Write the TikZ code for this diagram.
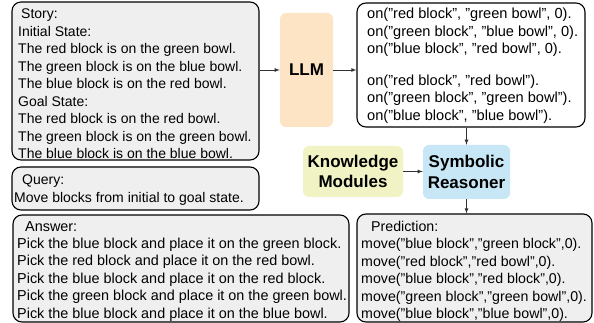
\documentclass[tikz,border=0pt]{standalone}
\usepackage{fontspec}
\setmainfont{Liberation Sans}
\usetikzlibrary{arrows,positioning}
\definecolor{panelgray}{RGB}{239,239,239}
\definecolor{llmorange}{RGB}{253,228,196}
\definecolor{kmyellow}{RGB}{242,243,196}
\definecolor{srblue}{RGB}{199,231,246}
\tikzset{>=latex}
\tikzset{panel/.style={draw=black, line width=1.1pt, rounded corners=9pt,
    fill=panelgray, inner sep=0pt},
  txt/.style={align=left, inner sep=0pt, anchor=north west,
    font=\fontsize{14}{17.5}\selectfont},
  module/.style={rounded corners=6pt, inner sep=0pt, align=center,
    font=\bfseries\fontsize{17}{20.6}\selectfont},
  flow/.style={->, line width=0.8pt, draw=black!80}}

\begin{document}
\begin{tikzpicture}[x=1pt,y=-1pt]
    \useasboundingbox (0,0) rectangle (594,323);
    % left column
    \node[panel, minimum width=247pt, minimum height=158pt] (story) at (135.5,81) {};
    \node[panel, minimum width=247pt, minimum height=43pt] (query) at (135.5,188.5) {};
    \node[panel, minimum width=336pt, minimum height=107pt] (answer) at (181,268.5) {};
    \node[txt] (storytxt) at (18,9) {\hspace*{3pt}Story:\\Initial State:\\
      The red block is on the green bowl.\\The green block is on the blue bowl.\\
      The blue block is on the red bowl.\\Goal State:\\
      The red block is on the red bowl.\\The green block is on the green bowl.\\
      The blue block is on the blue bowl.};
    \node[txt] (querytxt) at (14,175) {\hspace*{8pt}Query:\\Move blocks from initial to goal state.};
    \node[txt, font=\fontsize{14.4}{17.4}\selectfont] (answertxt) at (17,221) {\hspace*{8pt}Answer:\\
      Pick the blue block and place it on the green block.\\
      Pick the red block and place it on the red bowl.\\
      Pick the blue block and place it on the red block.\\
      Pick the green block and place it on the green bowl.\\
      Pick the blue block and place it on the blue bowl.};
    % pipeline
    \node[module, fill=llmorange, minimum width=53pt, minimum height=114pt] (llm) at (306.5,70) {LLM};
    \node[panel, fill=white, minimum width=228pt, minimum height=124pt] (facts) at (471,65) {};
    \node[txt, font=\fontsize{14.6}{17.5}\selectfont] (factstxt) at (367,8) {on("red block", "green bowl", 0).\\
      on("green block", "blue bowl", 0).\\on("blue block", "red bowl", 0).\\[14pt]
      on("red block", "red bowl").\\on("green block", "green bowl").\\
      on("blue block", "blue bowl").};
    \node[module, fill=kmyellow, minimum width=100pt, minimum height=51pt] (km) at (353,171.5) {Knowledge\\Modules};
    \node[module, fill=srblue, minimum width=87pt, minimum height=54pt] (sr) at (466.5,172) {Symbolic\\Reasoner};
    \node[panel, minimum width=235pt, minimum height=108pt] (pred) at (474.5,268) {};
    \node[txt, font=\fontsize{14.2}{17.4}\selectfont] (predtxt) at (361,221) {\hspace*{10pt}Prediction:\\
      move("blue block","green block",0).\\move("red block","red bowl",0).\\
      move("blue block","red block",0).\\move("green block","green bowl",0).\\
      move("blue block","blue bowl",0).};
    % arrows
    \draw[flow] (story.east |- llm) -- (llm.west);
    \draw[flow] (llm.east) -- (llm.east -| facts.west);
    \draw[flow] (sr.north |- facts.south) -- (sr.north);
    \draw[flow] (km.east) -- (km.east -| sr.west);
    \draw[flow] (sr.south) -- (sr.south |- pred.north);
\end{tikzpicture}
\end{document}
